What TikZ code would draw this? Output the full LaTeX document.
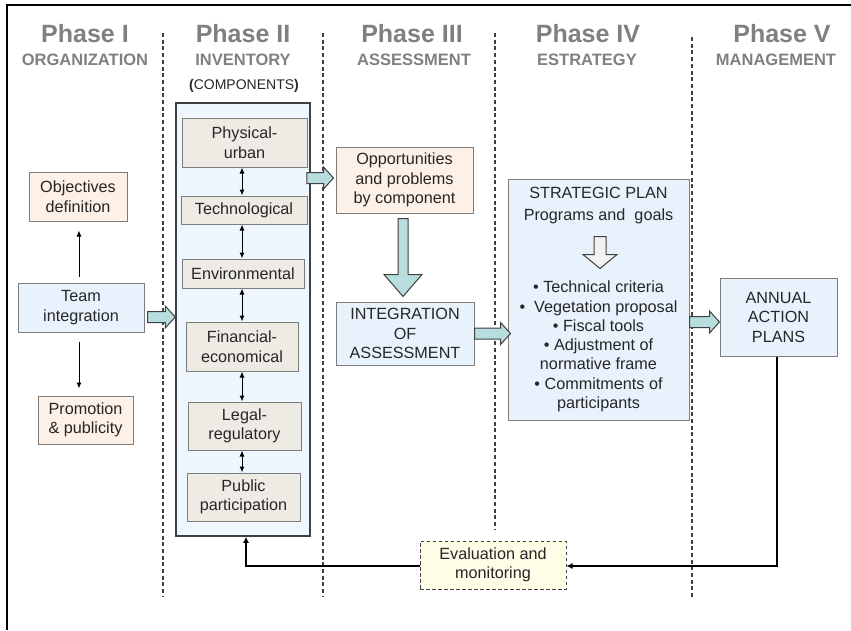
\documentclass[tikz,border=0pt]{standalone}
\usepackage{fontspec}
\setmainfont{Liberation Sans}
\usetikzlibrary{arrows.meta,calc}
\definecolor{hdr}{RGB}{128,128,128}
\definecolor{peach}{RGB}{253,240,230}
\definecolor{lblue}{RGB}{232,242,252}
\definecolor{bigblue}{RGB}{238,246,254}
\definecolor{beige}{RGB}{238,235,228}
\definecolor{tealfill}{RGB}{183,221,222}
\definecolor{lyellow}{RGB}{255,253,230}
\definecolor{bordergray}{RGB}{125,125,125}
\definecolor{dark}{RGB}{64,64,64}
\definecolor{txt}{RGB}{38,38,38}
\tikzset{
  box/.style={draw=bordergray, line width=1pt, align=center, inner sep=0pt,
    font=\fontsize{16.2}{19.5}\selectfont, text=txt},
  peachbox/.style={box, fill=peach},
  bluebox/.style={box, fill=lblue},
  compbox/.style={box, fill=beige},
  bigbox/.style={draw=dark, line width=1.5pt, fill=bigblue, inner sep=0pt},
  evalbox/.style={box, draw=dark, fill=lyellow, dash pattern=on 3.5pt off 2.5pt},
  phase/.style={anchor=base, text=hdr, font=\fontsize{25}{28}\bfseries\selectfont},
  subphase/.style={anchor=base, text=hdr, font=\fontsize{16.5}{19}\bfseries\selectfont},
  divider/.style={draw=dark, line width=1.2pt, dash pattern=on 4pt off 2.7pt},
  blockarrow/.style={fill=tealfill, draw=dark, line width=1pt},
  hollowarrow/.style={fill=black!5, draw=dark, line width=1pt},
  thin/.style={draw=black, line width=1pt, -{Latex[length=6pt,width=5pt]}},
  dbl/.style={draw=black, line width=1pt, {Latex[length=6pt,width=5pt]}-{Latex[length=6pt,width=5pt]}},
  fb/.style={draw=black, line width=1.6pt, -{Latex[length=6pt,width=6pt]}},
}
% horizontal block arrow: start point, target (x only)
\newcommand\fatR[2]{\filldraw[blockarrow] let \p1=(#1), \p2=(#2) in
  (\x1,\y1+5.5pt) -- (\x2-10pt,\y1+5.5pt) -- (\x2-10pt,\y1+11pt) -- (\x2,\y1)
  -- (\x2-10pt,\y1-11pt) -- (\x2-10pt,\y1-5.5pt) -- (\x1,\y1-5.5pt) -- cycle;}
% vertical (downward) block arrow: [style]{start}{tip}{body half}{head half}{head length}
\newcommand\fatD[6][blockarrow]{\filldraw[#1] let \p1=(#2), \p2=(#3) in
  (\x1-#4pt,\y1) -- (\x1-#4pt,\y2+#6pt) -- (\x1-#5pt,\y2+#6pt) -- (\x1,\y2)
  -- (\x1+#5pt,\y2+#6pt) -- (\x1+#4pt,\y2+#6pt) -- (\x1+#4pt,\y1) -- cycle;}
\begin{document}
\begin{tikzpicture}[x=1pt,y=-1pt]
\useasboundingbox (0,0) rectangle (851,630);
% frame
\draw[line width=2pt] (851,5) -- (7,5) -- (7,630);
% dividers
\draw[divider] (163,33) -- (163,596);
\draw[divider] (323,33) -- (323,596);
\draw[divider] (495,33) -- (495,530);
\draw[divider] (692,37) -- (692,598);
% headers
\node[phase] (h1) at (85,42) {Phase I};
\node[subphase] (s1) at (85,65) {ORGANIZATION};
\node[phase] (h2) at (243,42) {Phase II};
\node[subphase] (s2) at (243,65) {INVENTORY};
\node[anchor=base, text=txt, font=\fontsize{14}{16}\selectfont] (s2b) at (244,89)
  {\textbf{(}COMPONENTS\textbf{)}};
\node[phase] (h3) at (412,42) {Phase III};
\node[subphase] (s3) at (414,65) {ASSESSMENT};
\node[phase] (h4) at (588,42) {Phase IV};
\node[subphase] (s4) at (587,65) {ESTRATEGY};
\node[phase] (h5) at (782,42) {Phase V};
\node[subphase] (s5) at (776,65) {MANAGEMENT};
% Phase I
\node[peachbox, minimum width=98pt, minimum height=49pt] (obj) at (78,196.5) {Objectives\\definition};
\node[bluebox, minimum width=126pt, minimum height=49pt] (team) at (81,307.5) {Team\\integration};
\node[peachbox, minimum width=95pt, minimum height=48pt] (prom) at (85.5,420) {Promotion\\\&~publicity};
\draw[thin, shorten <=6pt, shorten >=9pt] ($(team.north)+(-2,0)$) -- ($(obj.south)+(1,0)$);
\draw[thin, shorten <=9pt, shorten >=7pt] ($(team.south)+(-2,0)$) -- ($(prom.north)+(-6.5,0)$);
% Phase II
\node[bigbox, minimum width=134pt, minimum height=433pt] (big) at (243,319.5) {};
\node[compbox, minimum width=125pt, minimum height=49pt] (phys) at (244.5,142.5) {Physical-\\urban};
\node[compbox, minimum width=126pt, minimum height=28pt] (tech) at (244,210) {Technological};
\node[compbox, minimum width=122pt, minimum height=29pt] (env) at (243,273.5) {Environmental};
\node[compbox, minimum width=112pt, minimum height=49pt] (fin) at (242,346.5) {Financial-\\economical};
\node[compbox, minimum width=113pt, minimum height=48pt] (legal) at (244.5,426) {Legal-\\regulatory};
\node[compbox, minimum width=113pt, minimum height=48pt] (pub) at (243.5,497) {Public\\participation};
\coordinate (ax) at (242,0);
\draw[dbl] (phys.south -| ax) -- (tech.north -| ax);
\draw[dbl] (tech.south -| ax) -- (env.north -| ax);
\draw[dbl] (env.south -| ax) -- (fin.north -| ax);
\draw[dbl] (fin.south -| ax) -- (legal.north -| ax);
\draw[dbl] (legal.south -| ax) -- (pub.north -| ax);
\fatR{$(team.east)+(3,9.5)$}{big.west}
% Phase III
\node[peachbox, minimum width=137pt, minimum height=66pt] (opp) at (404.5,180) {Opportunities\\and problems\\by component};
\node[bluebox, minimum width=138pt, minimum height=63pt] (integ) at (405,333.5) {INTEGRATION\\OF\\ASSESSMENT};
\fatR{$(big.east |- opp.west)+(-4,-2)$}{$(opp.west)+(-2,0)$}
\fatD{$(opp.south)+(-1.5,5)$}{$(integ.north)+(-1.5,-5)$}{5}{19}{22}
% Phase IV
\node[bluebox, minimum width=181pt, minimum height=241pt] (strat) at (598.5,299.5) {};
\node[box, draw=none, font=\fontsize{16.2}{22}\selectfont] (stitle) at ($(strat.north)+(0,27)$)
  {STRATEGIC PLAN\\Programs and~~goals};
\fatD[hollowarrow]{$(strat.north)+(1.5,58)$}{$(strat.north)+(1.5,90)$}{6}{17}{14}
\node[box, draw=none, font=\fontsize{16.2}{19.3}\selectfont] (slist) at ($(strat.north)+(0,168)$)
  {• Technical criteria\\•~~Vegetation proposal\\• Fiscal tools\\• Adjustment of\\normative frame\\• Commitments of\\participants};
\fatR{integ.east}{$(strat.west)+(3,0)$}
% Phase V
\node[bluebox, minimum width=117pt, minimum height=78pt] (annual) at (778.5,317) {ANNUAL\\ACTION\\PLANS};
\fatR{$(strat.east |- annual.west)+(0,5)$}{annual.west}
% feedback
\node[evalbox, minimum width=146pt, minimum height=48pt] (eval) at (493,565) {Evaluation and\\monitoring};
\draw[fb] ($(annual.south)+(-1.5,0)$) |- ($(eval.east)+(0,1)$);
\draw[fb] ($(eval.west)+(0,1)$) -| ($(big.south)+(3,0)$);
\end{tikzpicture}
\end{document}
